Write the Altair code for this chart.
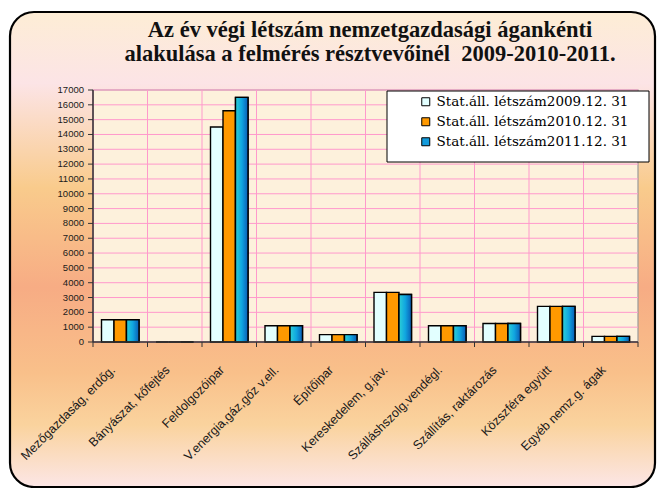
import altair as alt
import pandas as pd

categories = [
    "Mezőgazdaság, erdőg.",
    "Bányászat, kőfejtés",
    "Feldolgozóipar",
    "V.energia,gáz,gőz v.ell.",
    "Építőipar",
    "Kereskedelem, g.jav.",
    "Szálláshszolg.vendégl.",
    "Szállítás, raktározás",
    "Közszféra együtt",
    "Egyéb nemz.g. ágak",
]
series = [
    "Stat.áll. létszám2009.12. 31",
    "Stat.áll. létszám2010.12. 31",
    "Stat.áll. létszám2011.12. 31",
]
v2009 = [1500, 0, 14500, 1100, 500, 3350, 1100, 1250, 2400, 380]
v2010 = [1500, 0, 15600, 1100, 500, 3350, 1100, 1250, 2400, 380]
v2011 = [1500, 0, 16500, 1100, 500, 3200, 1100, 1250, 2400, 380]
y_ticks = [0, 1000, 2000, 3000, 4000, 5000, 6000, 7000, 8000, 9000, 10000,
           11000, 12000, 13000, 14000, 15000, 16000, 17000]
title_lines = ["Az év végi létszám nemzetgazdasági ágankénti",
               "alakulása a felmérés résztvevőinél \u00a02009-2010-2011."]

rows = []
for s, vals in zip(series, [v2009, v2010, v2011]):
    for c, v in zip(categories, vals):
        rows.append({"cat": c, "series": s, "value": v})
df = pd.DataFrame(rows)
cat_df = pd.DataFrame({"cat": categories})
tick_df = pd.DataFrame({"v": y_ticks})

W, H = 545, 252
pink = "#FF99CC"
axis_col = "#333333"

x_scale = alt.Scale(domain=categories, paddingInner=0, paddingOuter=0)
y_scale = alt.Scale(domain=[0, 17000], nice=False, zero=True)
off_scale = alt.Scale(domain=series, paddingOuter=0.68, paddingInner=0)

bg_grad = alt.Gradient(
    gradient="linear", x1=0, x2=0, y1=0, y2=1,
    stops=[
        alt.GradientStop(color="#FDEDD5", offset=0.0),
        alt.GradientStop(color="#FCE4E6", offset=0.15),
        alt.GradientStop(color="#F9CB8C", offset=0.37),
        alt.GradientStop(color="#F7AC84", offset=0.58),
        alt.GradientStop(color="#F9C08A", offset=0.76),
        alt.GradientStop(color="#FAD39E", offset=0.87),
        alt.GradientStop(color="#FCE6E6", offset=1.0),
    ],
)
bar_grad = alt.Gradient(
    gradient="linear", x1=0, x2=1, y1=0, y2=0,
    stops=[
        alt.GradientStop(color="#2CCFD6", offset=0.0),
        alt.GradientStop(color="#10A6E0", offset=0.5),
        alt.GradientStop(color="#0A5CB5", offset=1.0),
    ],
)

one = alt.Data(values=[{}])

frame = alt.Chart(one).mark_rect(
    fill=bg_grad, stroke="#000000", strokeWidth=2.2, cornerRadius=24, clip=False
).encode(x=alt.value(-83), x2=alt.value(562), y=alt.value(-78), y2=alt.value(397))

plot_bg = alt.Chart(one).mark_rect(
    fill="#FDF1DC", stroke="#9A9A9A", strokeWidth=1.2
).encode(x=alt.value(0), x2=alt.value(W), y=alt.value(0), y2=alt.value(H))

hgrid = alt.Chart(tick_df).mark_rule(color=pink, strokeWidth=1).encode(
    y=alt.Y("v:Q", scale=y_scale, axis=None)
)

vgrid = alt.Chart(cat_df).mark_rule(color=pink, strokeWidth=1).encode(
    x=alt.X("cat:N", scale=x_scale, sort=categories, bandPosition=0, axis=None)
)

bars = alt.Chart(df).mark_bar(stroke="#000000", strokeWidth=1.4).encode(
    x=alt.X("cat:N", scale=x_scale, sort=categories, axis=None),
    xOffset=alt.XOffset("series:N", scale=off_scale, sort=series),
    y=alt.Y("value:Q", scale=y_scale, axis=None),
    color=alt.Color(
        "series:N", sort=series,
        scale=alt.Scale(domain=series, range=["#E2FFFF", "#FF9900", "#139BDC"]),
        legend=alt.Legend(
            title=None, orient="none", legendX=326, legendY=5,
            symbolType="square", symbolSize=64, symbolStrokeColor="#000000",
            symbolStrokeWidth=1, labelFont="DejaVu Serif", labelFontSize=13.5,
            labelColor="#000000", labelOffset=4, rowPadding=5, padding=0,
            labelLimit=400,
        ),
    ),
)

bars2011 = alt.Chart(df).transform_filter(
    alt.datum.series == series[2]
).mark_bar(fill=bar_grad, stroke="#000000", strokeWidth=1.4).encode(
    x=alt.X("cat:N", scale=x_scale, sort=categories, axis=None),
    xOffset=alt.XOffset("series:N", scale=off_scale, sort=series),
    y=alt.Y("value:Q", scale=y_scale, axis=None),
)

# axis drawing (above the decorative frame)
y_domain = alt.Chart(one).mark_rule(color=axis_col, strokeWidth=1.5).encode(
    x=alt.value(0), y=alt.value(0), y2=alt.value(H)
)
x_domain = alt.Chart(one).mark_rule(color=axis_col, strokeWidth=1.5).encode(
    x=alt.value(0), x2=alt.value(W), y=alt.value(H)
)
y_tick_marks = alt.Chart(tick_df).mark_rule(color=axis_col, strokeWidth=1).encode(
    y=alt.Y("v:Q", scale=y_scale, axis=None), x=alt.value(-5), x2=alt.value(0)
)
y_labels = alt.Chart(tick_df).mark_text(
    align="right", baseline="middle", font="Liberation Sans", fontSize=9.5,
    color="#1a1a1a",
).encode(
    y=alt.Y("v:Q", scale=y_scale, axis=None), x=alt.value(-9), text=alt.Text("v:Q")
)
x_tick_marks = alt.Chart(cat_df).mark_rule(color=axis_col, strokeWidth=1).encode(
    x=alt.X("cat:N", scale=x_scale, sort=categories, bandPosition=0, axis=None),
    y=alt.value(H), y2=alt.value(H + 5),
)
x_tick_end = alt.Chart(pd.DataFrame({"cat": categories[-1:]})).mark_rule(
    color=axis_col, strokeWidth=1
).encode(
    x=alt.X("cat:N", scale=x_scale, sort=categories, bandPosition=1, axis=None),
    y=alt.value(H), y2=alt.value(H + 5),
)
x_labels = alt.Chart(cat_df).mark_text(
    angle=315, align="right", baseline="middle", font="Liberation Sans",
    fontSize=12.5, color="#1a1a1a",
).encode(
    x=alt.X("cat:N", scale=x_scale, sort=categories, bandPosition=0.37, axis=None),
    y=alt.value(H + 26), text="cat:N",
)

legend_box = alt.Chart(one).mark_rect(
    fill="#FFFFFF", stroke="#000000", strokeWidth=1
).encode(x=alt.value(294), x2=alt.value(556), y=alt.value(1), y2=alt.value(72))

title_style = dict(
    align="center", baseline="alphabetic", font="Liberation Serif",
    fontSize=22.5, fontWeight="bold", color="#111111",
)
title_1 = alt.Chart(pd.DataFrame({"line": title_lines[:1]})).mark_text(
    **title_style
).encode(text="line:N", x=alt.value(277), y=alt.value(-53))
title_2 = alt.Chart(pd.DataFrame({"line": title_lines[1:]})).mark_text(
    **title_style
).encode(text="line:N", x=alt.value(277), y=alt.value(-29))

chart = alt.layer(
    frame, plot_bg, hgrid, vgrid, bars, bars2011,
    y_domain, x_domain, y_tick_marks, y_labels, x_tick_marks, x_tick_end, x_labels,
    legend_box, title_1, title_2,
).properties(
    width=W, height=H,
    autosize=alt.AutoSizeParams(type="none"),
    padding={"left": 85, "top": 82, "right": 19, "bottom": 146},
).configure_view(stroke=None).configure(background="#FFFFFF")

chart.save("out.html", embed_options={"renderer": "svg", "actions": False})
